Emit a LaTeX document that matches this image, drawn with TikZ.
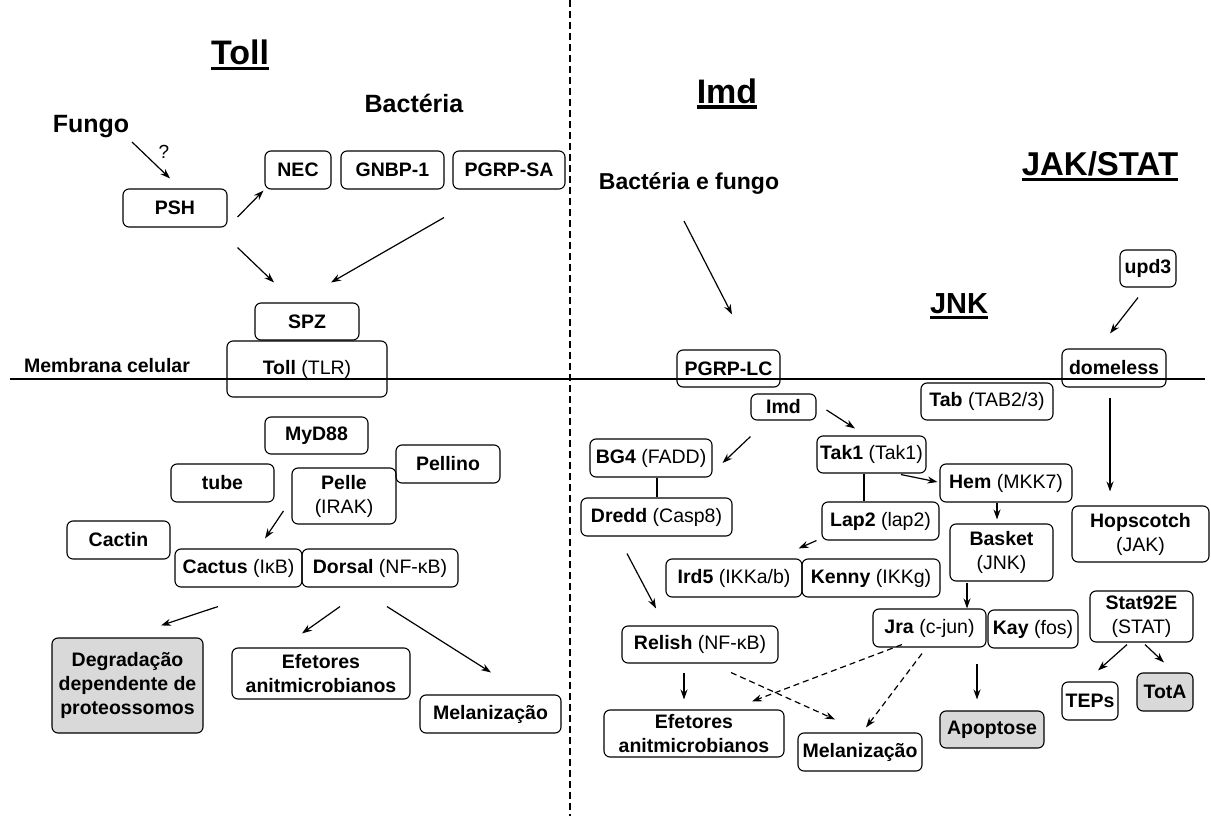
\documentclass[tikz,border=0pt]{standalone}
\usepackage{fontspec}
\setmainfont{Liberation Sans}
\usepackage{tikz}
\usetikzlibrary{arrows.meta,calc}
\definecolor{boxgray}{RGB}{217,217,217}

\begin{document}
\begin{tikzpicture}[x=1pt,y=-1pt,
		arrow/.style={line width=1.2pt,-{Stealth[length=10pt,width=7pt]}},
		darrow/.style={arrow,dash pattern=on 6pt off 4pt}]
		\tikzset{box/.style={draw=black,line width=1.1pt,rounded corners=6pt,inner sep=0pt,align=center,font=\fontsize{19.5}{24}\selectfont\bfseries},
			gbox/.style={box,fill=boxgray},
			wh/.style 2 args={minimum width=#1pt,minimum height=#2pt},
			title/.style={inner sep=0pt,anchor=base,font=\fontsize{34}{40}\selectfont\bfseries},
			label/.style={inner sep=0pt,anchor=base,font=\fontsize{25}{30}\selectfont\bfseries},
			uline/.style={line width=3pt}}
		\useasboundingbox (0,0) rectangle (1211,816);

		% membrana e divisao
		\draw[line width=2pt] (10,379) -- (1205,379);
		\draw[line width=1.3pt, dash pattern=on 7pt off 4pt] (570,0) -- (570,816);

		% titulos
		\node[title] (ttoll) at (240,65) {Toll};
		\node[title] (timd) at (727,103) {Imd};
		\node[title, font=\fontsize{33}{40}\selectfont\bfseries] (tjak) at (1100,175) {JAK/STAT};
		\node[title, font=\fontsize{29}{34}\selectfont\bfseries] (tjnk) at (959,313) {JNK};
		\foreach \t in {ttoll,timd,tjak,tjnk}
			\draw[uline] ([yshift=-4pt]\t.base west) -- ([yshift=-4pt]\t.base east);

		\node[label] (fungo) at (91,132) {Fungo};
		\node[label] (bact) at (414,113) {Bactéria};
		\node[label, font=\fontsize{23}{28}\selectfont\bfseries] (bactf) at (689,189) {Bactéria e fungo};
		\node[label, font=\fontsize{19.5}{24}\selectfont\bfseries] (membr) at (107,372) {Membrana celular};

		% Toll
		\node[box, wh={104}{38}] (psh) at (175,208) {PSH};
		\node[box, wh={66}{38}] (nec) at (298,170) {NEC};
		\node[box, wh={103}{38}] (gnbp) at (392.5,170) {GNBP-1};
		\node[box, wh={112}{38}] (pgrpsa) at (509,170) {PGRP-SA};
		\node[box, wh={104}{37}] (spz) at (307,321.5) {SPZ};
		\node[box, wh={160}{56}] (toll) at (307,369) {Toll \textmd{(TLR)}};
		\node[box, wh={103}{37}] (myd) at (316.5,435.5) {MyD88};
		\node[box, wh={103}{38}] (tube) at (222.5,483) {tube};
		\node[box, wh={104}{56}] (pelle) at (344,496) {Pelle\\\textmd{(IRAK)}};
		\node[box, wh={104}{38}] (pellino) at (448,464) {Pellino};
		\node[box, wh={103}{38}] (cactin) at (118.5,540) {Cactin};
		\node[box, wh={127}{38}] (cactus) at (238.5,568) {Cactus \textmd{(IκB)}};
		\node[box, wh={156}{38}] (dorsal) at (380,568) {Dorsal \textmd{(NF-κB)}};
		\node[gbox, wh={151}{95}] (degr) at (127.5,685.5) {Degradação\\dependente de\\proteossomos};
		\node[box, wh={178}{51}] (efet) at (321,673.5) {Efetores\\anitmicrobianos};
		\node[box, wh={141}{38}] (melan) at (490.5,714) {Melanização};

		% Imd
		\node[box, wh={103}{37}] (pgrplc) at (728.5,368.5) {PGRP-LC};
		\node[box, wh={65}{26}] (imd) at (783.5,407) {Imd};
		\node[box, wh={122}{38}] (bgf) at (651,458) {BG4 \textmd{(FADD)}};
		\node[box, wh={151}{38}] (dredd) at (656.5,517) {Dredd \textmd{(Casp8)}};
		\node[box, wh={109}{37}] (tak) at (871.5,454.5) {Tak1 \textmd{(Tak1)}};
		\node[box, wh={117}{38}] (lap) at (880.5,521) {Lap2 \textmd{(lap2)}};
		\node[box, wh={136}{38}] (ird) at (734,578) {Ird5 \textmd{(IKKa/b)}};
		\node[box, wh={138}{38}] (kenny) at (871,578) {Kenny \textmd{(IKKg)}};
		\node[box, wh={156}{37}] (relish) at (700,644.5) {Relish \textmd{(NF-κB)}};
		\node[box, wh={180}{47}] (efetr) at (694,733.5) {Efetores\\anitmicrobianos};
		\node[box, wh={124}{38}] (melanr) at (860,752) {Melanização};

		% JNK
		\node[box, wh={132}{37}] (tab) at (987,401.5) {Tab \textmd{(TAB2/3)}};
		\node[box, wh={132}{38}] (hem) at (1006,483) {Hem \textmd{(MKK7)}};
		\node[box, wh={103}{57}] (basket) at (1001.5,552.5) {Basket\\\textmd{(JNK)}};
		\node[box, wh={113}{38}] (jra) at (929.5,628) {Jra \textmd{(c-jun)}};
		\node[box, wh={90}{38}] (kay) at (1033,629) {Kay \textmd{(fos)}};
		\node[gbox, wh={104}{37}] (apop) at (992,729.5) {Apoptose};

		% JAK/STAT
		\node[box, wh={56}{37}] (upd) at (1148,268.5) {upd3};
		\node[box, wh={104}{38}] (dome) at (1114,368) {domeless};
		\node[box, wh={137}{56}] (hop) at (1140.5,534) {Hopscotch\\\textmd{(JAK)}};
		\node[box, wh={103}{51}] (stat) at (1141.5,616.5) {Stat92E\\\textmd{(STAT)}};
		\node[box, wh={56}{38}] (teps) at (1090,701) {TEPs};
		\node[gbox, wh={56}{38}] (tota) at (1165,692) {TotA};

		% setas Toll
		\draw[arrow] ([shift={(41,10)}]fungo.base) -- ([shift={(-5,-10)}]psh.north)
			node[midway, xshift=13pt, yshift=8pt, font=\fontsize{19}{22}\selectfont] {?};
		\draw[arrow] ([shift={(10,9)}]psh.east) -- ([shift={(-1,1)}]nec.south west);
		\draw[arrow] ([shift={(10,20)}]psh.south east) -- ([shift={(-33,-20)}]spz.north);
		\draw[arrow] ([shift={(-65,28)}]pgrpsa.south) -- ([shift={(24,-20)}]spz.north);
		\draw[arrow] ([shift={(-8,15)}]pelle.west) -- ([shift={(26.5,-10)}]cactus.north);
		\draw[arrow] ([shift={(-20.5,19)}]cactus.south) -- ([shift={(33.5,-12)}]degr.north);
		\draw[arrow] ([shift={(-40,19)}]dorsal.south) -- ([shift={(-19,-14)}]efet.north);
		\draw[arrow] ([shift={(7,19)}]dorsal.south) -- ([shift={(0.5,-22)}]melan.north);

		% setas Imd
		\draw[arrow] ([shift={(-5,32)}]bactf.base) -- ([shift={(3.5,-35)}]pgrplc.north);
		\draw[arrow] ([shift={(10,3)}]imd.east) -- ([shift={(-16.5,-7)}]tak.north);
		\draw[arrow] ([shift={(0,16)}]imd.south west) -- ([shift={(10,5)}]bgf.east);
		\draw[line width=1.1pt] ([shift={(6,0)}]bgf.south) -- ([shift={(0.5,0)}]dredd.north);
		\draw[line width=1.1pt] ([shift={(-7.5,0)}]tak.south) -- ([shift={(-16.5,0)}]lap.north);
		\draw[arrow] ([shift={(-5,0)}]lap.south west) -- ([shift={(-4,-10)}]ird.north east);
		\draw[arrow] ([shift={(-29.5,17)}]dredd.south) -- ([shift={(-44,-17)}]relish.north);
		\draw[arrow] ([shift={(-16,9)}]relish.south) -- ([shift={(-10,-10)}]efetr.north);
		\draw[darrow] ([shift={(31,9)}]relish.south) -- ([shift={(-25,-13)}]melanr.north);

		% setas JNK
		\draw[arrow] ([shift={(29.5,1)}]tak.south) -- ([shift={(-2,-1)}]hem.west);
		\draw[arrow] ([shift={(-9,0)}]hem.south) -- ([shift={(-4.5,-4)}]basket.north);
		\draw[arrow] ([shift={(-34.5,1)}]basket.south) -- ([shift={(37.5,0)}]jra.north);
		\draw[darrow] ([shift={(-27.5,-3)}]jra.south) -- ([shift={(58,-8)}]efetr.north);
		\draw[darrow] ([shift={(-7.5,6)}]jra.south) -- ([shift={(6,-5)}]melanr.north);
		\draw[arrow] ([shift={(-56,15)}]kay.south) -- ([shift={(-15,-11)}]apop.north);

		% setas JAK/STAT
		\draw[arrow] ([shift={(-10,10)}]upd.south) -- ([shift={(-4,-15)}]dome.north);
		\draw[arrow] ([shift={(-4,10)}]dome.south) -- ([shift={(-30.5,-14)}]hop.north);
		\draw[arrow] ([shift={(-14.5,2)}]stat.south) -- ([shift={(8,-11)}]teps.north);
		\draw[arrow] ([shift={(3.5,2)}]stat.south) -- ([shift={(-1,-10)}]tota.north);

	\end{tikzpicture}
\end{document}
